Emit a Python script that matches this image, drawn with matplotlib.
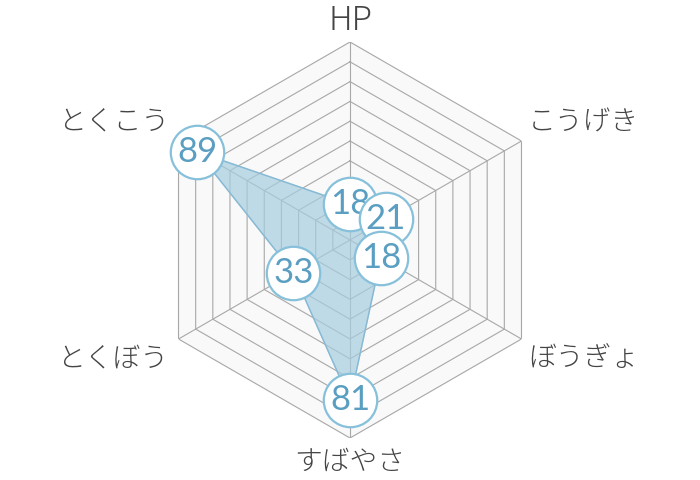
import numpy as np
import matplotlib
matplotlib.use("Agg")
import matplotlib.pyplot as plt

plt.rcParams['font.family'] = ['Noto Sans CJK JP', 'DejaVu Sans']

# ステータス
labels = ['HP', 'こうげき', 'ぼうぎょ', 'すばやさ', 'とくぼう', 'とくこう']
values = [18, 21, 18, 81, 33, 89]
rings = [10, 20, 30, 40, 50, 60, 70, 80, 90, 100]

# label offsets from the outer vertex (pixels) and alignment
label_offsets = [(0, 21), (6, 18), (7, -19), (0, -24), (-11, -19), (-10, 19)]
label_ha = ['center', 'left', 'left', 'center', 'right', 'right']
label_size = [24, 20, 20, 20, 20, 20]

n = len(labels)
angles = np.linspace(0, 2 * np.pi, n, endpoint=False)
closed = np.append(angles, angles[0])

fig = plt.figure(figsize=(7, 4.8), dpi=100)
R = 198
ax = fig.add_axes([(350 - R) / 700, (480 - 240 - R) / 480, 2 * R / 700, 2 * R / 480],
                  projection='polar')
ax.set_theta_zero_location('N')
ax.set_theta_direction(-1)
ax.set_ylim(0, 100)
ax.grid(False)
ax.spines['polar'].set_visible(False)
ax.set_xticks([])
ax.set_yticks([])
ax.patch.set_alpha(0)

# hexagon background + grid
ax.fill(closed, [100] * (n + 1), color='#f9f9f9', zorder=0)
for r in rings:
    ax.plot(closed, [r] * (n + 1), color='#a8a8a8', lw=0.8, zorder=1)
for a in angles:
    ax.plot([a, a], [0, 100], color='#a8a8a8', lw=0.8, zorder=1)

# data polygon
vals = values + values[:1]
ax.fill(closed, vals, color='#a7cde0', alpha=0.7, zorder=2)
ax.plot(closed, vals, color='#86b9d3', lw=1, zorder=3)

# value bubbles
for i, (a, v) in enumerate(zip(angles, values)):
    ax.scatter([a], [v], s=1480, facecolor='white', edgecolor='#86c0da',
               linewidths=1.6, zorder=10 + 2 * i, clip_on=False)
    ax.text(a, v, str(v), ha='center', va='center', fontsize=25,
            family='Lato', color='#5a9fc2', zorder=11 + 2 * i)

# axis labels
for a, lab, off, ha, fs in zip(angles, labels, label_offsets, label_ha, label_size):
    ax.annotate(lab, xy=(a, 100), xytext=off, textcoords='offset pixels',
                ha=ha, va='center', fontsize=fs, color='#444444',
                weight='light', annotation_clip=False)

fig.savefig('out.png', dpi=100)
